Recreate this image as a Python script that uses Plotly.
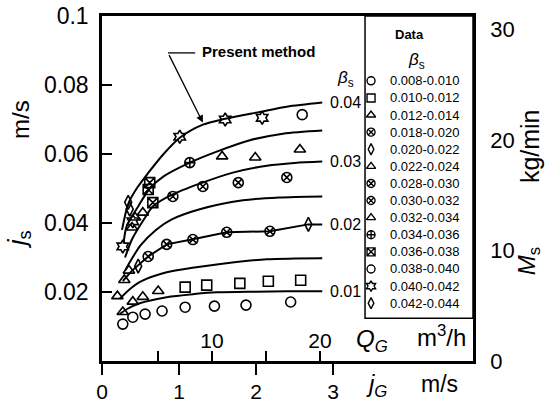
import plotly.graph_objects as go

FONT = "Liberation Sans, Arial, Helvetica, sans-serif"

# ---------------- theoretical curves ("Present method"): jG [m/s] -> js [m/s]
c01_jg = [0.23, 0.32, 0.50, 0.84, 1.20, 1.49, 2.00, 2.40, 2.86]
c01_js = [0.0136, 0.0150, 0.0168, 0.0185, 0.0194, 0.0199, 0.0201, 0.0202, 0.0202]

c015_jg = [0.23, 0.36, 0.50, 0.84, 1.20, 1.49, 2.14, 2.50, 2.86]
c015_js = [0.0180, 0.0208, 0.0230, 0.0257, 0.0271, 0.0280, 0.0295, 0.0297, 0.0298]

c02_jg = [0.27, 0.39, 0.60, 0.84, 1.18, 1.62, 2.18, 2.68, 2.86]
c02_js = [0.0232, 0.0262, 0.0303, 0.0338, 0.0353, 0.0373, 0.0376, 0.0396, 0.0396]

c025_jg = [0.30, 0.36, 0.50, 0.70, 0.90, 1.27, 1.83, 2.30, 2.86]
c025_js = [0.0262, 0.0286, 0.0335, 0.0380, 0.0410, 0.0440, 0.0466, 0.0474, 0.0477]

c03_jg = [0.30, 0.39, 0.56, 0.66, 0.91, 1.27, 1.70, 2.14, 2.50, 2.86]
c03_js = [0.0300, 0.0353, 0.0416, 0.0448, 0.0482, 0.0514, 0.0546, 0.0566, 0.0574, 0.0578]

c035_jg = [0.28, 0.32, 0.47, 0.62, 0.80, 1.14, 1.49, 1.92, 2.35, 2.86]
c035_js = [0.0340, 0.0390, 0.0448, 0.0500, 0.0535, 0.0575, 0.0607, 0.0640, 0.0659, 0.0668]

c04_jg = [0.26, 0.34, 0.45, 0.60, 0.80, 1.01, 1.31, 1.60, 2.05, 2.40, 2.86]
c04_js = [0.0380, 0.0455, 0.0500, 0.0545, 0.0600, 0.0647, 0.0685, 0.0702, 0.0722, 0.0737, 0.0749]

curve_labels = ["0.01", "0.02", "0.03", "0.04"]

# ---------------- measured data, grouped by beta_s range
legend_labels = ["0.008-0.010", "0.010-0.012", "0.012-0.014", "0.018-0.020",
                 "0.020-0.022", "0.022-0.024", "0.028-0.030", "0.030-0.032",
                 "0.032-0.034", "0.034-0.036", "0.036-0.038", "0.038-0.040",
                 "0.040-0.042", "0.042-0.044"]
legend_symbols = ["circle-open", "square-open", "triangle-up-open", "circle-x-open",
                  "diamond-tall-open", "triangle-up-open", "circle-x-open", "circle-x-open",
                  "triangle-up-open", "circle-cross-open", "square-x-open", "circle-open",
                  "hexagram-open", "diamond-tall-open"]

d01_jg = [0.27, 0.40, 0.56, 0.78, 1.08, 1.46, 1.87, 2.45]
d01_js = [0.0107, 0.0127, 0.0136, 0.0145, 0.0156, 0.0159, 0.0162, 0.0171]
d02_jg = [1.08, 1.36, 1.79, 2.16, 2.58]
d02_js = [0.0214, 0.0220, 0.0225, 0.0231, 0.0234]
d03_jg = [0.20, 0.27, 0.40, 0.53, 0.73]
d03_js = [0.0188, 0.0142, 0.0172, 0.0186, 0.0203]
d04_jg = [0.60, 0.84, 1.18, 1.62, 2.18]
d04_js = [0.0303, 0.0338, 0.0352, 0.0373, 0.0376]
d05_jg = [0.47, 2.68]
d05_js = [0.0275, 0.0396]
d06_jg = [0.29, 0.35]
d06_js = [0.0235, 0.0262]
d07_jg = [1.31, 1.77, 2.40]
d07_js = [0.0506, 0.0517, 0.0532]
d08_jg = [0.92]
d08_js = [0.0477]
d09_jg = [0.39, 0.43, 0.53, 1.56, 1.99, 2.57]
d09_js = [0.0387, 0.0416, 0.0430, 0.0593, 0.0590, 0.0613]
d10_jg = [1.14]
d10_js = [0.0575]
d11_jg = [0.62, 0.60, 0.66]
d11_js = [0.0517, 0.0497, 0.0459]
d12_jg = [2.60]
d12_js = [0.0714]
d13_jg = [0.27, 0.40, 1.01, 1.60, 2.08]
d13_js = [0.0332, 0.0405, 0.0650, 0.0700, 0.0705]
d14_jg = [0.36, 0.34]
d14_js = [0.0440, 0.0460]

data_jg = [d01_jg, d02_jg, d03_jg, d04_jg, d05_jg, d06_jg, d07_jg,
           d08_jg, d09_jg, d10_jg, d11_jg, d12_jg, d13_jg, d14_jg]
data_js = [d01_js, d02_js, d03_js, d04_js, d05_js, d06_js, d07_js,
           d08_js, d09_js, d10_js, d11_js, d12_js, d13_js, d14_js]

# axis ticks
js_ticks = [0, 0.02, 0.04, 0.06, 0.08, 0.1]
js_ticktext = ["0", "0.02", "0.04", "0.06", "0.08", "0.1"]
jg_ticks = [0, 1, 2, 3]
qg_ticks = [10, 20]
qg_minor = [5, 15]
ms_ticks = [0, 10, 20, 30]
ms_minor = [5, 15, 25]

fig = go.Figure()

curves = [(c01_jg, c01_js, "spline"), (c015_jg, c015_js, "spline"),
          (c02_jg, c02_js, "linear"), (c025_jg, c025_js, "spline"),
          (c03_jg, c03_js, "spline"), (c035_jg, c035_js, "spline"),
          (c04_jg, c04_js, "spline")]
for jg, js, shape in curves:
    fig.add_trace(go.Scatter(x=jg, y=js, mode="lines",
                             line=dict(color="black", width=2, shape=shape, smoothing=0.8),
                             showlegend=False, hoverinfo="skip"))

for lab, sym, xs, ys in zip(legend_labels, legend_symbols, data_jg, data_js):
    fig.add_trace(go.Scatter(x=xs, y=ys, mode="markers", name=lab, showlegend=False,
                             marker=dict(symbol=sym, size=10, color="black",
                                         line=dict(color="black", width=1.6))))

# dummy traces to activate secondary axes
fig.add_trace(go.Scatter(x=[None], y=[None], xaxis="x2", yaxis="y", showlegend=False))
fig.add_trace(go.Scatter(x=[None], y=[None], xaxis="x", yaxis="y2", showlegend=False))

# legend panel (own hidden axes)
rows = list(range(len(legend_labels)))
fig.add_trace(go.Scatter(x=[0] * len(rows), y=rows, xaxis="x3", yaxis="y3", mode="markers",
                         showlegend=False, hoverinfo="skip",
                         marker=dict(symbol=legend_symbols, size=8, color="black",
                                     line=dict(color="black", width=1.4))))


def pann(x, y, text, size, angle=0, **kw):
    d = dict(x=x, y=y, xref="paper", yref="paper", text=text, showarrow=False,
             xanchor="center", yanchor="middle", textangle=angle,
             font=dict(size=size, color="black"))
    d.update(kw)
    return d


ann = []
# legend entry texts
for r, lab in zip(rows, legend_labels):
    ann.append(dict(x=1.05, y=r, xref="x3", yref="y3", text=lab, showarrow=False,
                    xanchor="left", yanchor="middle", font=dict(size=13, color="black")))
# curve labels at right end
for lab, js in zip(curve_labels, [c01_js, c02_js, c03_js, c04_js]):
    ann.append(dict(x=2.93, y=js[-1], xref="x", yref="y", text=lab, showarrow=False,
                    xanchor="left", yanchor="middle", font=dict(size=16, color="black")))
ann.append(pann(0.655, 0.818, "<i>β</i><sub>s</sub>", 17))
# Present method
ann.append(dict(x=1.27, y=0.0896, xref="x", yref="y", text="<b>Present method</b>",
                showarrow=False, xanchor="left", yanchor="middle",
                font=dict(size=15, color="black")))
ann.append(dict(x=1.31, y=0.0691, xref="x", yref="y", ax=-35, ay=-70, text=" ",
                showarrow=True, arrowhead=2, arrowsize=1.1, arrowwidth=1.3, arrowcolor="black",
                font=dict(size=2)))
# legend header
ann.append(pann(0.8275, 0.945, "<b>Data</b>", 13))
ann.append(pann(0.849, 0.87, "<i>β</i><sub>s</sub>", 17))
# axis titles
ann.append(pann(-0.218, 0.699, "m/s", 24, -90))
ann.append(pann(-0.226, 0.353, "<i>j</i><sub>s</sub>", 26, -90))
ann.append(pann(1.152, 0.624, "kg/min", 25, -90))
ann.append(pann(1.148, 0.289, "<i>M</i><sub>s</sub>", 24, -90))
ann.append(pann(0.728, 0.058, "<i>Q</i><sub><i>G</i></sub>", 24))
ann.append(pann(0.914, 0.072, "m<sup>3</sup>/h", 24))
ann.append(pann(0.739, -0.07, "<i>j</i><sub><i>G</i></sub>", 24))
ann.append(pann(0.911, -0.066, "m/s", 23))

shapes = [
    dict(type="rect", xref="paper", yref="paper", x0=0.709, x1=1.0, y0=0.124, y1=1.0,
         line=dict(color="black", width=1.5)),
    dict(type="line", xref="x", yref="y", x0=0.857, x1=1.21, y0=0.0893, y1=0.0893,
         line=dict(color="black", width=1.3)),
]

fig.update_layout(
    width=546, height=403,
    margin=dict(l=102, r=73, t=16, b=42, autoexpand=False),
    paper_bgcolor="white", plot_bgcolor="white",
    font=dict(family=FONT, color="black"),
    showlegend=False,
    annotations=ann, shapes=shapes,
    xaxis=dict(range=[0, 4.818], tickvals=jg_ticks, ticks="outside", ticklen=11, tickwidth=2,
               tickcolor="black", showline=True, linecolor="black", linewidth=2.5, mirror=True,
               showgrid=False, zeroline=False, tickfont=dict(size=21, color="black"),
               automargin=False, ticklabelstandoff=-1),
    xaxis2=dict(overlaying="x", side="bottom", anchor="y", range=[-0.185, 34.17],
                tickvals=qg_ticks, ticks="inside", ticklen=10, tickwidth=2,
                tickcolor="black", ticklabelposition="inside", showline=False, showgrid=False,
                zeroline=False, tickfont=dict(size=21, color="black"), automargin=False,
                minor=dict(tickvals=qg_minor, ticks="inside", ticklen=10, tickwidth=2,
                           tickcolor="black", showgrid=False)),
    yaxis=dict(range=[0, 0.1], tickvals=js_ticks, ticktext=js_ticktext, ticks="inside",
               ticklen=10, tickwidth=2, tickcolor="black", showline=True, linecolor="black",
               linewidth=2.5, showgrid=False, zeroline=False,
               tickfont=dict(size=23, color="black"), ticklabelstandoff=6, automargin=False),
    yaxis2=dict(overlaying="y", side="right", anchor="x", range=[0, 31.2], tickvals=ms_ticks,
                ticks="inside", ticklen=9, tickwidth=2, tickcolor="black",
                showline=True, linecolor="black", linewidth=2.5, showgrid=False, zeroline=False,
                tickfont=dict(size=22, color="black"), ticklabelstandoff=10, automargin=False,
                minor=dict(tickvals=ms_minor, ticks="inside", ticklen=9, tickwidth=2,
                           tickcolor="black", showgrid=False)),
    xaxis3=dict(domain=[0.709, 1.0], anchor="y3", range=[-0.375, 6.375], visible=False,
                automargin=False),
    yaxis3=dict(domain=[0.124, 1.0], anchor="x3", range=[13.88, -3.79], visible=False,
                automargin=False),
)

fig.write_html("out.html")
